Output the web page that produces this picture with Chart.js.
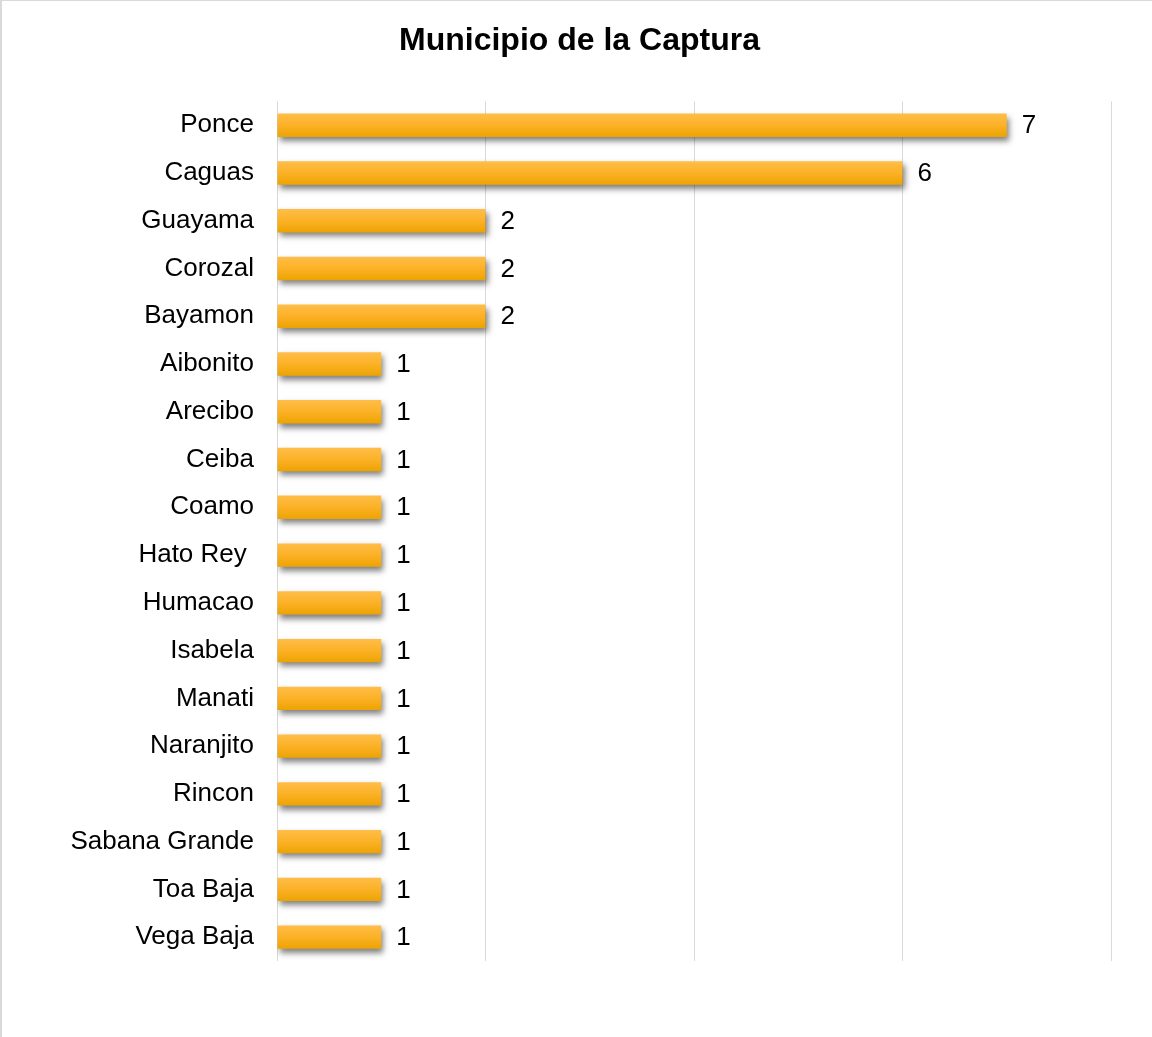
<!DOCTYPE html>
<html>
<head>
<meta charset="utf-8">
<script src="https://cdn.jsdelivr.net/npm/chart.js@4"></script>
<style>
  html, body { margin: 0; padding: 0; background: #fff; }
  #wrap { width: 1152px; height: 1037px; position: relative; }
</style>
</head>
<body>
<div id="wrap"><canvas id="municipio-chart" width="1152" height="1037"></canvas></div>
<script>
// Chart data
const municipios = ["Ponce", "Caguas", "Guayama", "Corozal", "Bayamon", "Aibonito", "Arecibo", "Ceiba",
  "Coamo", "Hato Rey ", "Humacao", "Isabela", "Manati", "Naranjito", "Rincon", "Sabana Grande",
  "Toa Baja", "Vega Baja"];
const capturas = [7, 6, 2, 2, 2, 1, 1, 1, 1, 1, 1, 1, 1, 1, 1, 1, 1, 1];
const xTicks = [0, 2, 4, 6, 8];

const FONT = "'Liberation Sans', Arial, sans-serif";

// vertical gradient for each bar
function barGradient(context) {
  const chart = context.chart;
  const yScale = chart.scales.y;
  if (!chart.chartArea || !yScale || context.dataIndex === undefined) return "#fbb024";
  const c = yScale.getPixelForValue(context.dataIndex);
  if (!Number.isFinite(c)) return "#fbb024";
  const g = chart.ctx.createLinearGradient(0, c - 12, 0, c + 12);
  g.addColorStop(0, "#ffbe4a");
  g.addColorStop(0.5, "#fcb126");
  g.addColorStop(1, "#eca300");
  return g;
}

// shadow under the bars
const barShadow = {
  id: "barShadow",
  beforeDatasetsDraw(chart) {
    const ctx = chart.ctx;
    ctx.save();
    ctx.shadowColor = "rgba(0,0,0,0.5)";
    ctx.shadowBlur = 6;
    ctx.shadowOffsetX = 2;
    ctx.shadowOffsetY = 4;
  },
  afterDatasetsDraw(chart) {
    chart.ctx.restore();
  }
};

// value labels at the end of the bars
const valueLabels = {
  id: "valueLabels",
  afterDatasetsDraw(chart) {
    const ctx = chart.ctx;
    const meta = chart.getDatasetMeta(0);
    ctx.save();
    ctx.font = "26px " + FONT;
    ctx.fillStyle = "#000";
    ctx.textAlign = "left";
    ctx.textBaseline = "middle";
    meta.data.forEach((bar, i) => {
      ctx.fillText(String(capturas[i]), bar.x + 15, bar.y + 1);
    });
    ctx.restore();
  }
};

// light frame around the chart
const frame = {
  id: "frame",
  afterDraw(chart) {
    const ctx = chart.ctx;
    ctx.save();
    ctx.fillStyle = "#d9d9d9";
    ctx.fillRect(0, 0, chart.width, 1);
    ctx.fillRect(0, 0, 2, chart.height);
    ctx.restore();
  }
};

new Chart(document.getElementById("municipio-chart").getContext("2d"), {
  type: "bar",
  data: {
    labels: municipios,
    datasets: [{
      label: "Capturas",
      data: capturas,
      backgroundColor: barGradient,
      borderWidth: 0,
      categoryPercentage: 1,
      barPercentage: 0.49
    }]
  },
  options: {
    indexAxis: "y",
    responsive: false,
    animation: false,
    layout: { padding: { left: 48, right: 41, top: 0, bottom: 76 } },
    plugins: {
      legend: { display: false },
      tooltip: { enabled: false },
      title: {
        display: true,
        text: "Municipio de la Captura",
        color: "#000",
        font: { family: FONT, size: 32, weight: "bold", lineHeight: 1.2 },
        padding: { top: 22, bottom: 41 }
      }
    },
    scales: {
      x: {
        min: xTicks[0],
        max: xTicks[xTicks.length - 1],
        afterBuildTicks: (scale) => { scale.ticks = xTicks.map(v => ({ value: v })); },
        afterFit: (scale) => { scale.height = 0; },
        ticks: { display: false },
        grid: { color: "#d9d9d9", lineWidth: 1, drawTicks: false },
        border: { display: false }
      },
      y: {
        afterFit: (scale) => { scale.width = 229; },
        ticks: {
          color: "#000",
          padding: 23,
          autoSkip: false,
          font: { family: FONT, size: 26 }
        },
        grid: { display: false, drawTicks: false },
        border: { display: false }
      }
    }
  },
  plugins: [barShadow, valueLabels, frame]
});
</script>
</body>
</html>
